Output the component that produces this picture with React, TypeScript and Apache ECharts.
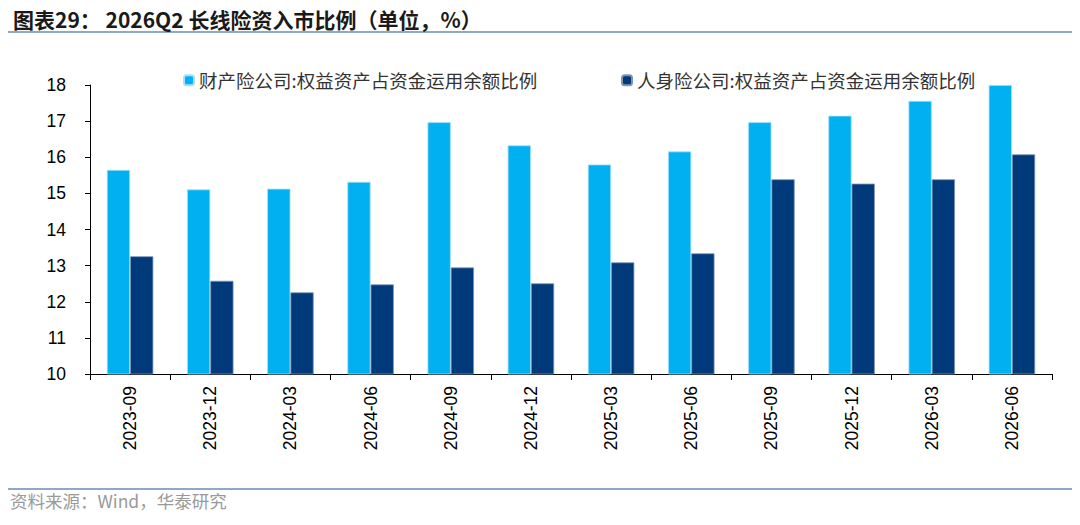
import { useEffect, useRef } from "react";
import * as echarts from "echarts";

const categories = [
  "2023-09", "2023-12", "2024-03", "2024-06", "2024-09", "2024-12",
  "2025-03", "2025-06", "2025-09", "2025-12", "2026-03", "2026-06",
];
const propertyRatio = [15.65, 15.11, 15.13, 15.32, 16.97, 16.33, 15.8, 16.16, 16.97, 17.15, 17.56, 18.0];
const lifeRatio = [13.26, 12.58, 12.26, 12.48, 12.95, 12.51, 13.09, 13.34, 15.39, 15.27, 15.39, 16.08];
const seriesNames = ["财产险公司:权益资产占资金运用余额比例", "人身险公司:权益资产占资金运用余额比例"];

const App = () => {
  const chartRef = useRef<HTMLDivElement>(null);

  useEffect(() => {
    document.body.style.margin = "0";
    if (!chartRef.current) return;
    const chart = echarts.init(chartRef.current, undefined, { renderer: "svg" });
    const legendText = {
      fontFamily: "Noto Sans CJK SC",
      fontSize: 18.5,
      color: "#333",
    };
    chart.setOption({
      animation: false,
      backgroundColor: "#fff",
      title: {
        text: "图表29： 2026Q2 长线险资入市比例（单位，%）",
        left: 8,
        top: 3,
        textStyle: {
          fontFamily: "Noto Sans CJK SC",
          fontSize: 21,
          fontWeight: "bold",
          color: "#1a1a1a",
        },
      },
      graphic: [
        {
          type: "line",
          shape: { x1: 8, y1: 32, x2: 1072, y2: 32 },
          style: { stroke: "#8fa8c8", lineWidth: 2 },
        },
        {
          type: "line",
          shape: { x1: 8, y1: 489, x2: 1072, y2: 489 },
          style: { stroke: "#8fa8c8", lineWidth: 2 },
        },
        {
          type: "text",
          left: 10,
          top: 492,
          style: {
            text: "资料来源：Wind，华泰研究",
            fontFamily: "Noto Sans CJK SC",
            fontSize: 17.5,
            fill: "#9a9a9a",
          },
        },
      ],
      legend: [
        {
          data: [seriesNames[0]],
          left: 178,
          top: 66,
          itemWidth: 10,
          itemHeight: 10,
          itemGap: 6,
          textStyle: legendText,
        },
        {
          data: [seriesNames[1]],
          left: 616,
          top: 66,
          itemWidth: 10,
          itemHeight: 10,
          itemGap: 6,
          textStyle: legendText,
        },
      ],
      grid: { left: 90, right: 28, top: 85, bottom: 151 },
      xAxis: {
        type: "category",
        data: categories,
        axisLine: { lineStyle: { color: "#000", width: 1 } },
        axisTick: { show: true, length: 6, lineStyle: { color: "#000" } },
        axisLabel: {
          rotate: 90,
          margin: 12,
          fontFamily: "Liberation Sans",
          fontSize: 17.5,
          color: "#000",
        },
      },
      yAxis: {
        type: "value",
        min: 10,
        max: 18,
        interval: 1,
        splitLine: { show: false },
        axisLine: { show: true, lineStyle: { color: "#000", width: 1 } },
        axisTick: { show: true, length: 5, lineStyle: { color: "#000" } },
        axisLabel: {
          margin: 24,
          fontFamily: "Liberation Sans",
          fontSize: 17.5,
          color: "#000",
        },
      },
      series: [
        {
          name: seriesNames[0],
          type: "bar",
          data: propertyRatio,
          barGap: "0%",
          barCategoryGap: "42%",
          itemStyle: { color: "#00b0f0", borderColor: "#a6e0f8", borderWidth: 0.8 },
        },
        {
          name: seriesNames[1],
          type: "bar",
          data: lifeRatio,
          itemStyle: { color: "#003a7a", borderColor: "#8294b4", borderWidth: 0.8 },
        },
      ],
    });
    return () => {
      chart.dispose();
    };
  }, []);

  return <div ref={chartRef} style={{ width: 1080, height: 525 }} />;
};

export default App;
